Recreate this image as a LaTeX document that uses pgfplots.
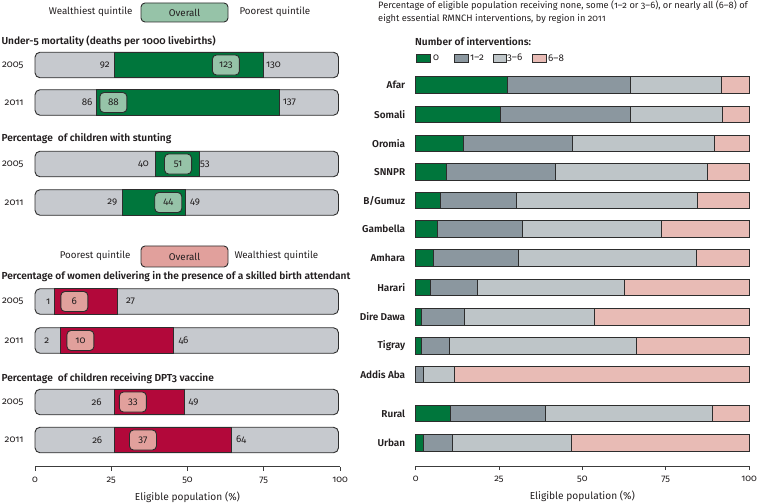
\documentclass[border=0pt]{standalone}
\usepackage{fontspec}
\setmainfont{Fira Sans}[Numbers=OldStyle]
\newfontfamily\semib{Fira Sans SemiBold}[Numbers=OldStyle]
\usepackage{pgfplots}
\pgfplotsset{compat=1.18}
\definecolor{dgreen}{RGB}{0,118,60}
\definecolor{crim}{RGB}{178,8,58}
\definecolor{lgreen}{RGB}{150,195,168}
\definecolor{lpink}{RGB}{225,160,156}
\definecolor{lgray}{RGB}{198,201,206}
\definecolor{mgray}{RGB}{139,151,159}
\definecolor{pgray}{RGB}{190,197,200}
\definecolor{rpink}{RGB}{232,187,181}
\definecolor{edge}{RGB}{45,45,45}
\definecolor{txt}{RGB}{35,31,32}
\definecolor{axc}{RGB}{60,60,60}
\newcommand{\fs}{\fontsize{9.8}{11}\selectfont}
\newcommand{\fk}{\fontsize{9.5}{11}\selectfont}
\newcommand{\ft}{\fontsize{10.2}{12}\selectfont\semib}
\pgfplotsset{
  panel/.style={scale only axis, xmin=0, xmax=100, y dir=reverse, clip=false,
    /pgf/number format/assume math mode=true},
  ticked/.style={axis x line=bottom, axis y line=left,
    y axis line style={draw=none}, ytick style={draw=none},
    xtick={0,25,50,75,100}, tick align=outside, major tick length=4bp,
    x axis line style={-, draw=axc, line width=0.8bp},
    xtick style={draw=axc, line width=0.8bp},
    xlabel={Eligible population (\%)},
    xlabel style={yshift=-1bp, font=\fontsize{10.2}{12}\selectfont},
    xticklabel style={yshift=-3bp, font=\fk},
    yticklabel style={xshift=-4bp},
    ticklabel style={text=txt},
    label style={text=txt}},
}
\begin{document}
\begin{tikzpicture}[x=1bp,y=-1bp,font=\fs, text=txt]
\useasboundingbox (0,0) rectangle (757,504);
% ---------- left legends
\node[anchor=east] at (136,12) {Wealthiest quintile};
\draw[edge, fill=lgreen, rounded corners=4bp, line width=0.9bp] (141,3) rectangle (228,22);
\node at (184.5,12.5) {Overall};
\node[anchor=west] at (236,12) {Poorest quintile};
\node[anchor=east] at (134,256) {Poorest quintile};
\draw[edge, fill=lpink, rounded corners=4bp, line width=0.9bp] (141,246) rectangle (228,267);
\node at (184.5,256.5) {Overall};
\node[anchor=west] at (231,256) {Wealthiest quintile};
% ---------- section titles
\node[anchor=west, font=\ft] at (-2,41) {Under-5 mortality (deaths per 1000 livebirths)};
\node[anchor=west, font=\ft] at (-2,139) {Percentage\ \ of children with stunting};
\node[anchor=west, font=\ft] at (-2,277) {Percentage of women delivering in the presence of a skilled birth attendant};
\node[anchor=west, font=\ft] at (-2,379) {Percentage\ \ of children receiving DPT3 vaccine};
% ---------- left panel: background bars
\begin{axis}[panel, ticked, at={(35bp,-466.7bp)}, anchor=south west, width=305bp, height=466.7bp,
  ymin=0, ymax=466.7,
  ytick={65,102.5,164,202.5,301.5,340.5,402,440},
  yticklabels={2005,2011,2005,2011,2005,2011,2005,2011},
  yticklabel style={font=\fs}]
\addplot[xbar, bar width=25.5bp, fill=lgray, draw=edge, line width=0.9bp, rounded corners=5bp]
  coordinates {(99.5,65) (99.5,102.5) (99.5,164) (99.5,202.5) (99.5,301.5) (99.5,340.5) (99.5,402) (99.5,440)};
\end{axis}
% ---------- left panel: coloured ranges
\begin{axis}[panel, hide axis, at={(35bp,-466.7bp)}, anchor=south west, width=305bp, height=466.7bp,
  ymin=0, ymax=466.7, xbar stacked, bar width=25.5bp]
\addplot[draw=none, fill=none]
  coordinates {(26.2,65) (20.2,102.5) (39.5,164) (28.6,202.5) (6.3,301.5) (8.2,340.5) (26.0,402) (26.0,440)};
\addplot[fill=dgreen, draw=edge, line width=0.9bp]
  coordinates {(48.6,65) (59.9,102.5) (14.4,164) (20.8,202.5) (0,301.5) (0,340.5) (0,402) (0,440)};
\addplot[fill=crim, draw=edge, line width=0.9bp]
  coordinates {(0,65) (0,102.5) (0,164) (0,202.5) (20.6,301.5) (37.3,340.5) (23.0,402) (38.5,440)};
\end{axis}
% ---------- left panel: labels and overall boxes
\begin{axis}[panel, hide axis, at={(35bp,-466.7bp)}, anchor=south west, width=305bp, height=466.7bp,
  ymin=0, ymax=466.7]
\addplot[only marks, mark=none, nodes near coords, point meta=explicit symbolic,
  every node near coord/.style={anchor=center, draw=edge, fill=lgreen, rounded corners=4bp,
    minimum width=27bp, minimum height=20bp, inner sep=1bp, line width=0.9bp, text=txt, font=\fs}]
  table[meta=lab] {
x y lab
62.6 65 123
25.7 102.5 88
46.9 164 51
43.7 202.5 44
};
\addplot[only marks, mark=none, nodes near coords, point meta=explicit symbolic,
  every node near coord/.style={anchor=center, draw=edge, fill=lpink, rounded corners=4bp,
    minimum width=27bp, minimum height=20bp, inner sep=1bp, line width=0.9bp, text=txt, font=\fs}]
  table[meta=lab] {
x y lab
12.9 301.5 6
14.9 340.5 10
32.1 402 33
35.4 440 37
};
\addplot[only marks, mark=none, nodes near coords, point meta=explicit symbolic,
  every node near coord/.style={anchor=east, inner sep=0pt, text=txt, font=\fs}]
  table[meta=lab] {
x y lab
24.6 65 92
18.9 102.5 86
37.4 164 40
27.0 202.5 29
5.1 301.5 1
4.7 340.5 2
21.9 402 26
22.1 440 26
};
\addplot[only marks, mark=none, nodes near coords, point meta=explicit symbolic,
  every node near coord/.style={anchor=west, inner sep=0pt, text=txt, font=\fs}]
  table[meta=lab] {
x y lab
75.7 65 130
81.2 102.5 137
54.1 164 53
50.8 202.5 49
29.8 301.5 27
47.0 340.5 46
50.3 402 49
65.9 440 64
};
\end{axis}
% ---------- right panel
\node[anchor=north west, align=left, font=\fontsize{9.3}{13}\selectfont, inner sep=0pt] at (378,0.5)
  {Percentage of eligible population receiving none, some (1--2 or 3--6), or nearly all (6--8) of\\
   eight essential RMNCH interventions, by region in 2011};
\node[anchor=west, inner sep=0pt, font=\ft] at (415,42) {Number of interventions:};
\draw[edge, fill=dgreen, line width=0.8bp] (416,54) rectangle (430,62);
\node[anchor=west, inner sep=0pt] at (433,58) {0};
\draw[edge, fill=mgray, line width=0.8bp] (454,54) rectangle (468,62);
\node[anchor=west, inner sep=0pt] at (470,58) {1--2};
\draw[edge, fill=pgray, line width=0.8bp] (493,54) rectangle (506,62);
\node[anchor=west, inner sep=0pt] at (507,58) {3--6};
\draw[edge, fill=rpink, line width=0.8bp] (532,54) rectangle (546,62);
\node[anchor=west, inner sep=0pt] at (548,58) {6--8};
\begin{axis}[panel, ticked, at={(415.7bp,-466bp)}, anchor=south west, width=333.3bp, height=466bp,
  ymin=0, ymax=466, xbar stacked, bar width=16.5bp,
  ytick={85,114.5,143.5,172,200.5,229,258,287.3,316.7,345.7,374.3,413.5,442.7},
  yticklabels={Afar,Somali,Oromia,SNNPR,B/Gumuz,Gambella,Amhara,Harari,Dire Dawa,Tigray,Addis Aba,Rural,Urban},
  yticklabel style={font=\fontsize{10}{12}\selectfont\semib, xshift=1bp}]
\addplot[fill=dgreen, draw=edge, line width=0.9bp] coordinates {
(27.4,85) (25.3,114.5) (14.3,143.5) (9.1,172) (7.5,200.5) (6.5,229) (5.3,258)
(4.3,287.3) (1.7,316.7) (1.7,345.7) (0,374.3) (10.5,413.5) (2.3,442.7)};
\addplot[fill=mgray, draw=edge, line width=0.9bp] coordinates {
(37.1,85) (39.2,114.5) (32.7,143.5) (32.7,172) (22.6,200.5) (25.5,229) (25.5,258)
(14.3,287.3) (12.9,316.7) (8.4,345.7) (2.3,374.3) (28.3,413.5) (8.8,442.7)};
\addplot[fill=pgray, draw=edge, line width=0.9bp] coordinates {
(27.3,85) (27.6,114.5) (42.5,143.5) (45.7,172) (54.5,200.5) (41.6,229) (53.3,258)
(44.0,287.3) (39.0,316.7) (56.2,345.7) (9.3,374.3) (50.3,413.5) (35.5,442.7)};
\addplot[fill=rpink, draw=edge, line width=0.9bp] coordinates {
(8.2,85) (7.9,114.5) (10.5,143.5) (12.5,172) (15.4,200.5) (26.4,229) (15.9,258)
(37.4,287.3) (46.4,316.7) (33.7,345.7) (88.4,374.3) (10.9,413.5) (53.4,442.7)};
\end{axis}
\end{tikzpicture}
\end{document}
